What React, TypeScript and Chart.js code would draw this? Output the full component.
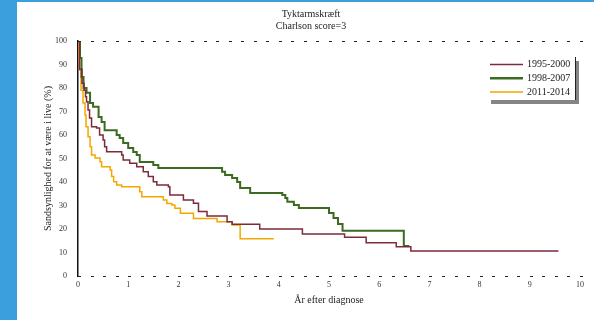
import React, { useEffect, useRef } from "react";
import { Chart, registerables } from "chart.js";

Chart.register(...registerables);

const titleLines = ["Tyktarmskræft", "Charlson score=3"];
const xTitle = "År efter diagnose";
const yTitle = "Sandsynlighed for at være i live (%)";
const seriesLabels = ["1995-2000", "1998-2007", "2011-2014"];
const seriesColors = ["#7d2a3b", "#3b6b20", "#f5a700"];
const minorStep = 0.25;

const maroonT = [0, 0.03, 0.08, 0.12, 0.15, 0.17, 0.2, 0.23, 0.27, 0.37, 0.43, 0.5, 0.53, 0.57, 0.87, 0.9, 1.03, 1.17, 1.3, 1.4, 1.5, 1.57, 1.8, 1.83, 2.1, 2.3, 2.4, 2.57, 2.97, 3.07, 3.62, 4.47, 5.31, 5.74, 6.34, 6.63, 9.57];
const maroonS = [100, 88, 82, 79, 76.3, 74.2, 70.6, 67.2, 63.5, 63, 60, 57.9, 55, 52.9, 51.5, 49.4, 48, 46.5, 44.4, 42.3, 40.1, 38.7, 38, 34.5, 32.3, 31, 27.4, 25.5, 23.1, 22, 20, 17.9, 16.5, 14.2, 12.5, 10.6, 10.6];

const greenT = [0, 0.04, 0.07, 0.11, 0.17, 0.24, 0.3, 0.41, 0.47, 0.53, 0.77, 0.83, 0.9, 1.0, 1.1, 1.17, 1.23, 1.5, 1.6, 2.87, 2.93, 3.07, 3.17, 3.23, 3.43, 4.07, 4.13, 4.17, 4.3, 4.4, 5.0, 5.09, 5.18, 5.27, 6.49, 6.6];
const greenS = [100, 92.8, 84.7, 80, 78, 73.6, 72, 67.7, 65.5, 62, 60, 58.7, 56.6, 54.5, 52.8, 51.5, 48.5, 47.2, 46, 44.4, 43, 41.7, 40, 37.4, 35.3, 34.5, 33.2, 31.6, 30.2, 28.9, 26.8, 24.7, 22.1, 19.3, 12.8, 12.8];

const orangeT = [0, 0.02, 0.03, 0.06, 0.1, 0.14, 0.16, 0.2, 0.24, 0.27, 0.34, 0.44, 0.47, 0.64, 0.67, 0.71, 0.77, 0.87, 1.23, 1.27, 1.7, 1.77, 1.87, 1.93, 2.04, 2.3, 2.77, 3.07, 3.23, 3.9];
const orangeS = [100, 92, 87.7, 79, 73.6, 68.5, 63.5, 59.3, 55, 51.5, 50.2, 48.6, 46.5, 45.1, 42.3, 40.1, 38.7, 38, 35.9, 33.7, 32.3, 30.9, 30.2, 28.8, 26.7, 24.5, 23.1, 21.7, 15.8, 15.8];

const FONT = "'Liberation Serif', 'DejaVu Serif', serif";

const framePlugin = {
  id: "dashedFrame",
  afterDraw(chart: any) {
    const { ctx, chartArea } = chart;
    const xs = chart.scales.x;
    ctx.save();
    ctx.strokeStyle = "#222";
    ctx.lineWidth = 1;
    for (let v = xs.min; v <= xs.max + 1e-9; v += minorStep) {
      const px = Math.round(xs.getPixelForValue(v));
      for (const py of [chartArea.top + 0.5, chartArea.bottom + 0.5]) {
        ctx.beginPath();
        ctx.moveTo(px, py);
        ctx.lineTo(px + 3, py);
        ctx.stroke();
      }
    }
    ctx.restore();
  },
};

const legendPlugin = {
  id: "boxLegend",
  afterDraw(chart: any) {
    const { ctx, chartArea } = chart;
    const left = chartArea.right - 93;
    const top = chartArea.top + 16;
    const w = 88;
    const h = 43;
    ctx.save();
    ctx.fillStyle = "#858585";
    ctx.fillRect(left + 4, top + 4, w, h);
    ctx.fillStyle = "#ffffff";
    ctx.fillRect(left, top, w, h);
    ctx.strokeStyle = "#222";
    ctx.lineWidth = 1;
    ctx.beginPath();
    ctx.moveTo(left + w + 0.5, top);
    ctx.lineTo(left + w + 0.5, top + h);
    ctx.stroke();
    chart.data.datasets.forEach((ds: any, i: number) => {
      const y = top + 7.5 + i * 13.7;
      ctx.strokeStyle = ds.borderColor;
      ctx.lineWidth = i === 1 ? 2.5 : 1.5;
      ctx.beginPath();
      ctx.moveTo(left + 3, y);
      ctx.lineTo(left + 36, y);
      ctx.stroke();
      ctx.fillStyle = "#222";
      ctx.font = `10px ${FONT}`;
      ctx.textBaseline = "middle";
      ctx.textAlign = "left";
      ctx.fillText(ds.label, left + 40, y);
    });
    ctx.restore();
  },
};

function toPoints(ts: number[], ss: number[]) {
  return ts.map((t, i) => ({ x: t, y: ss[i] }));
}

export default function App() {
  const ref = useRef<HTMLCanvasElement>(null);
  useEffect(() => {
    document.body.style.margin = "0";
    const canvas = ref.current!;
    const series = [
      [maroonT, maroonS],
      [greenT, greenS],
      [orangeT, orangeS],
    ];
    const chart = new Chart(canvas, {
      type: "line",
      data: {
        datasets: series.map((s, i) => ({
          label: seriesLabels[i],
          data: toPoints(s[0] as number[], s[1] as number[]),
          borderColor: seriesColors[i],
          backgroundColor: seriesColors[i],
          borderWidth: i === 1 ? 2 : 1.5,
          stepped: true,
          pointRadius: 0,
          fill: false,
        })),
      },
      options: {
        animation: false,
        responsive: false,
        layout: { padding: { top: 0, left: 42, right: 14, bottom: 14 } },
        plugins: {
          legend: { display: false },
          tooltip: { enabled: false },
          title: {
            display: true,
            text: titleLines,
            color: "#222",
            font: { family: FONT, size: 10, weight: "normal", lineHeight: 1.15 },
            padding: { top: 9, bottom: 9 },
          },
        },
        scales: {
          x: {
            type: "linear",
            position: "bottom",
            min: 0,
            max: 10,
            afterFit: (s: any) => { s.height = 30; },
            ticks: {
              stepSize: 1,
              color: "#333",
              font: { family: FONT, size: 8 },
              padding: 4,
              maxRotation: 0,
            },
            grid: { display: false, drawTicks: false, tickLength: 0 },
            border: { display: false },
            title: {
              display: true,
              text: xTitle,
              color: "#222",
              font: { family: FONT, size: 10 },
              padding: { top: 0, bottom: 0 },
            },
          },
          y: {
            min: 0,
            max: 100,
            afterFit: (s: any) => { s.width = 36; },
            ticks: {
              stepSize: 10,
              color: "#333",
              font: { family: FONT, size: 8 },
              padding: 3,
            },
            grid: { display: false },
            border: { display: true, color: "#111", width: 1.5 },
            title: {
              display: true,
              text: yTitle,
              color: "#222",
              font: { family: FONT, size: 10 },
              padding: { top: 0, bottom: 0 },
            },
          },
        },
      },
      plugins: [framePlugin, legendPlugin],
    } as any);
    return () => chart.destroy();
  }, []);
  return (
    <div style={{ position: "relative", width: 594, height: 320, background: "#fff", overflow: "hidden" }}>
      <div style={{ position: "absolute", left: 0, top: 0, width: 17, height: 320, background: "#3a9fdc" }} />
      <div style={{ position: "absolute", left: 0, top: 0, width: 594, height: 2, background: "#3a9fdc" }} />
      <canvas ref={ref} width={594} height={320} style={{ position: "absolute", left: 0, top: 0 }} />
    </div>
  );
}
